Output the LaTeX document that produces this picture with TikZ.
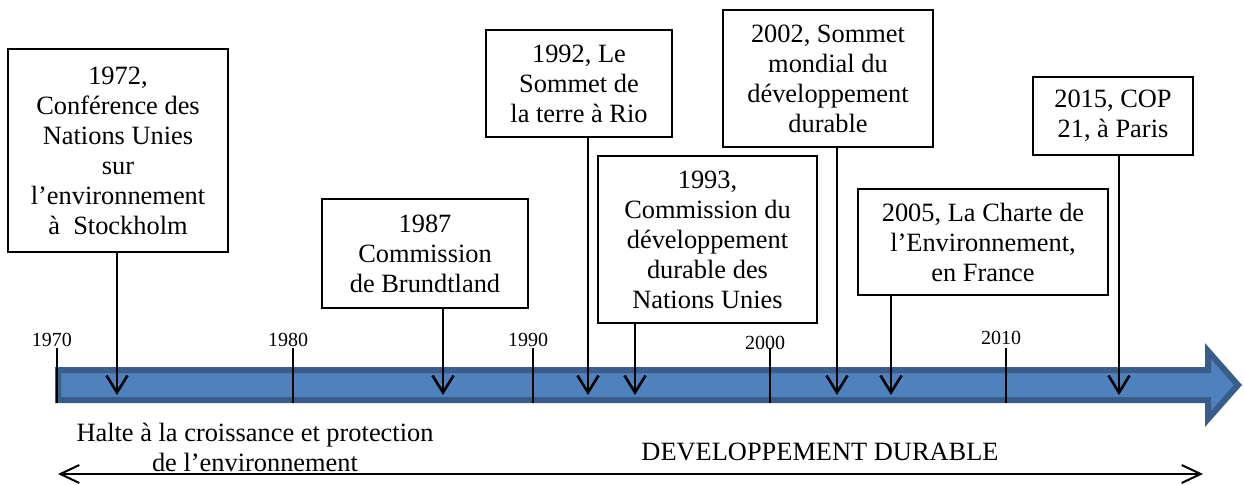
\documentclass[tikz,border=0pt]{standalone}
\usepackage{fontspec}
\setmainfont{Liberation Serif}
\definecolor{axisblue}{RGB}{79,129,189}
\definecolor{axisedge}{RGB}{56,93,138}
\usetikzlibrary{arrows.meta,positioning,calc}

\tikzset{
    eventbox/.style={draw=black, line width=1pt, fill=white, align=center, inner sep=2pt,
        font=\fontsize{13.2}{15}\selectfont},
    eventarrow/.style={line width=1.3pt, -{Straight Barb[length=8.5pt,width=10.5pt]}},
    yearlabel/.style={font=\fontsize{10}{12}\selectfont, inner sep=0pt},
    tickline/.style={line width=1pt},
    spanarrow/.style={line width=1pt, -{Straight Barb[length=9.5pt,width=9pt]}},
    periodtext/.style={align=center, inner sep=0pt, font=\fontsize{13.2}{15}\selectfont}
}

\begin{document}
\begin{tikzpicture}[x=0.5pt,y=-0.5pt]
            \useasboundingbox (0,0) rectangle (1244,484);

            % time axis
            \draw[axisedge, line width=3pt, fill=axisblue, line join=miter]
                (58,370) -- (1208,370) -- (1208,351) -- (1238,385) -- (1208,419)
                -- (1208,400) -- (58,400) -- cycle;
            \foreach \yr/\tx/\ly in {1970/57/340, 1980/293/340, 1990/533/340, 2000/770/343, 2010/1006/338} {
                \node[yearlabel] (y\yr) at (\tx-5,\ly) {\yr};
                \draw[tickline] (\tx,348) -- (\tx,403);
            }

            % events
            \node[eventbox, minimum width=110pt, minimum height=101.5pt] (b1972) at (118,150.5)
                {1972,\\Conférence des\\Nations Unies\\sur\\l’environnement\\à~~Stockholm};
            \node[eventbox, minimum width=103pt, minimum height=54.5pt] (b1987) at (425,253.5)
                {1987\\Commission\\de Brundtland};
            \node[eventbox, minimum width=93pt, minimum height=53.5pt] (b1992) at (579,83.5)
                {1992, Le\\Sommet de\\la terre à Rio};
            \node[eventbox, minimum width=109.5pt, minimum height=83.5pt] (b1993) at (707.5,239.5)
                {1993,\\Commission du\\développement\\durable des\\Nations Unies};
            \node[eventbox, minimum width=105pt, minimum height=68.5pt] (b2002) at (828,78.5)
                {2002, Sommet\\mondial du\\développement\\durable};
            \node[eventbox, minimum width=125pt, minimum height=53pt] (b2005) at (983,242)
                {2005, La Charte de\\l’Environnement,\\en France};
            \node[eventbox, minimum width=80pt, minimum height=39pt] (b2015) at (1113,116)
                {2015, COP\\21, à Paris};

            \coordinate (a1972) at (117,395);
            \coordinate (a1987) at (443,395);
            \coordinate (a1992) at (588,395);
            \coordinate (a1993) at (635,395);
            \coordinate (a2002) at (837,395);
            \coordinate (a2005) at (891,395);
            \coordinate (a2015) at (1119,395);
            \foreach \ev in {1972,1987,1992,1993,2002,2005,2015}
                \draw[eventarrow] (b\ev.south -| a\ev) -- (a\ev);

            % periods
            \node[periodtext] (halte) at (255,447) {Halte à la croissance et protection\\de l’environnement};
            \node[periodtext] (durable) at (820,452) {DEVELOPPEMENT DURABLE};
            \coordinate (split) at (443,474);
            \coordinate (start) at (58,474);
            \coordinate (finish) at (1203,474);
            \draw[spanarrow] (split) -- (start);
            \draw[spanarrow] (split) -- (finish);
        \end{tikzpicture}
\end{document}
